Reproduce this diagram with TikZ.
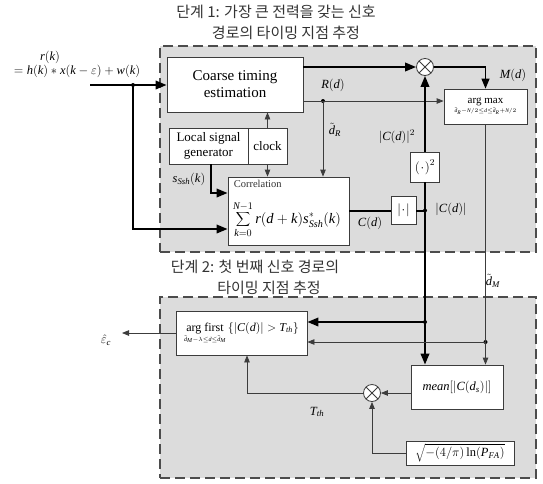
\RequirePackage{fix-cm}
\documentclass[tikz,border=0pt]{standalone}
\usepackage{fontspec}
\setmainfont{Liberation Serif}
\newfontfamily\kr{Noto Sans CJK KR}
\newfontfamily\lsrfam[NFSSFamily=lsr]{Liberation Serif}
\DeclareSymbolFont{tlet}{TU}{lsr}{m}{it}
\DeclareSymbolFont{trm}{TU}{lsr}{m}{n}
\DeclareMathSymbol{a}{\mathalpha}{tlet}{`a}
\DeclareMathSymbol{b}{\mathalpha}{tlet}{`b}
\DeclareMathSymbol{c}{\mathalpha}{tlet}{`c}
\DeclareMathSymbol{d}{\mathalpha}{tlet}{`d}
\DeclareMathSymbol{e}{\mathalpha}{tlet}{`e}
\DeclareMathSymbol{f}{\mathalpha}{tlet}{`f}
\DeclareMathSymbol{g}{\mathalpha}{tlet}{`g}
\DeclareMathSymbol{h}{\mathalpha}{tlet}{`h}
\DeclareMathSymbol{i}{\mathalpha}{tlet}{`i}
\DeclareMathSymbol{j}{\mathalpha}{tlet}{`j}
\DeclareMathSymbol{k}{\mathalpha}{tlet}{`k}
\DeclareMathSymbol{l}{\mathalpha}{tlet}{`l}
\DeclareMathSymbol{m}{\mathalpha}{tlet}{`m}
\DeclareMathSymbol{n}{\mathalpha}{tlet}{`n}
\DeclareMathSymbol{o}{\mathalpha}{tlet}{`o}
\DeclareMathSymbol{p}{\mathalpha}{tlet}{`p}
\DeclareMathSymbol{q}{\mathalpha}{tlet}{`q}
\DeclareMathSymbol{r}{\mathalpha}{tlet}{`r}
\DeclareMathSymbol{s}{\mathalpha}{tlet}{`s}
\DeclareMathSymbol{t}{\mathalpha}{tlet}{`t}
\DeclareMathSymbol{u}{\mathalpha}{tlet}{`u}
\DeclareMathSymbol{v}{\mathalpha}{tlet}{`v}
\DeclareMathSymbol{w}{\mathalpha}{tlet}{`w}
\DeclareMathSymbol{x}{\mathalpha}{tlet}{`x}
\DeclareMathSymbol{y}{\mathalpha}{tlet}{`y}
\DeclareMathSymbol{z}{\mathalpha}{tlet}{`z}
\DeclareMathSymbol{A}{\mathalpha}{tlet}{`A}
\DeclareMathSymbol{C}{\mathalpha}{tlet}{`C}
\DeclareMathSymbol{F}{\mathalpha}{tlet}{`F}
\DeclareMathSymbol{M}{\mathalpha}{tlet}{`M}
\DeclareMathSymbol{N}{\mathalpha}{tlet}{`N}
\DeclareMathSymbol{P}{\mathalpha}{tlet}{`P}
\DeclareMathSymbol{R}{\mathalpha}{tlet}{`R}
\DeclareMathSymbol{S}{\mathalpha}{tlet}{`S}
\DeclareMathSymbol{T}{\mathalpha}{tlet}{`T}
\DeclareMathSymbol{0}{\mathalpha}{trm}{`0}
\DeclareMathSymbol{1}{\mathalpha}{trm}{`1}
\DeclareMathSymbol{2}{\mathalpha}{trm}{`2}
\DeclareMathSymbol{4}{\mathalpha}{trm}{`4}
\DeclareMathSymbol{(}{\mathopen}{trm}{`(}
\DeclareMathSymbol{)}{\mathclose}{trm}{`)}
\usetikzlibrary{arrows.meta,calc}
\definecolor{bggray}{RGB}{220,220,220}
\definecolor{lngray}{RGB}{60,60,60}
\begin{document}
\begin{tikzpicture}[x=1pt,y=-1pt,
  blk/.style={draw=lngray, fill=white, line width=0.8pt, inner sep=0pt, align=center},
  stage/.style={draw=black!70, fill=bggray, dash pattern=on 10pt off 5pt, line width=1.5pt, inner sep=0pt},
  thinln/.style={draw=lngray, line width=0.8pt},
  thickln/.style={draw=black, line width=2pt},
  ta/.style={-{Triangle[length=7pt,width=5.5pt]}},
  tka/.style={-{Triangle[length=11pt,width=8.5pt]}},
  mult/.style={circle, draw=lngray, fill=white, line width=0.8pt, minimum size=17pt, inner sep=0pt,
    path picture={\draw[lngray, line width=0.8pt]
      (path picture bounding box.north west) -- (path picture bounding box.south east)
      (path picture bounding box.north east) -- (path picture bounding box.south west);}},
  jdot/.style={circle, fill=black, inner sep=0pt, minimum size=4pt},
  lab/.style={inner sep=0pt, font=\fontsize{12.5}{14}\selectfont},
  ttl/.style={inner sep=0pt, font=\kr\fontsize{15}{17}\selectfont, text=black!80}
]
\useasboundingbox (0,0) rectangle (543,483);

% stage backgrounds
\node[stage, minimum width=376pt, minimum height=206pt] (s1) at (348,149) {};
\node[stage, minimum width=376pt, minimum height=181pt] (s2) at (348,387.5) {};

% titles
\node[ttl] (t1a) at (276,12) {단계 1: 가장 큰 전력을 갖는 신호};
\node[ttl] (t1b) at (286,33) {경로의 타이밍 지점 추정};
\node[ttl] (t2a) at (255,267) {단계 2: 첫 번째 신호 경로의};
\node[ttl] (t2b) at (269,288) {타이밍 지점 추정};

% blocks
\node[blk, minimum width=136pt, minimum height=55pt, font=\fontsize{15}{17}\selectfont] (coarse) at (235,84.5) {Coarse timing\\estimation};
\node[blk, minimum width=79pt, minimum height=36pt, font=\fontsize{13}{14.5}\selectfont] (local) at (208.5,146) {Local signal\\generator};
\node[blk, minimum width=39pt, minimum height=36pt, font=\fontsize{13}{14.5}\selectfont] (clock) at (267.5,146) {clock};
\node[blk, minimum width=121pt, minimum height=68pt] (corr) at (288.5,211) {};
\node[inner sep=0pt, anchor=north west, font=\fontsize{10.5}{12}\selectfont, text=black!80] (corrt) at ($(corr.north west)+(6,3)$) {Correlation};
\node[inner sep=0pt, font=\fontsize{14.5}{16}\selectfont] (corrf) at (287,220) {$\displaystyle\sum_{k=0}^{N-1} r(d+k)s^{*}_{Ssh}(k)$};
\node[blk, minimum width=25pt, minimum height=28pt, font=\fontsize{13}{14}\selectfont] (abs) at (403.5,210.5) {$\big|\!\cdot\!\big|$};
\node[blk, minimum width=29pt, minimum height=30pt, font=\fontsize{13}{14}\selectfont] (sq) at (425,167) {$\big(\!\cdot\!\big)^{2}$};
\node[blk, minimum width=83pt, minimum height=35pt, font=\fontsize{11}{12}\selectfont] (argmax) at (485.5,106.5) {$\mathop{\mbox{arg max}}\limits_{\scriptscriptstyle\tilde{{d}}_R-N/2\le d\le \tilde{{d}}_R+N/2}$};
\node[mult] (mult1) at (425,67) {};

\node[blk, minimum width=131pt, minimum height=44pt, font=\fontsize{12}{13}\selectfont] (argfirst) at (241.5,333) {$\mathop{\mbox{arg first}}\limits_{\scriptscriptstyle\tilde{{d}}_M-\lambda\le d\le \tilde{{d}}_M}\big\{|C(d)|>T_{th}\big\}$};
\node[blk, minimum width=92pt, minimum height=44pt, font=\fontsize{12.5}{14}\selectfont] (mean) at (457,387) {$mean\big[\big|C(d_s)\big|\big]$};
\node[mult] (mult2) at (372,393) {};
\node[blk, minimum width=108pt, minimum height=24pt, font=\fontsize{12.5}{14}\selectfont] (sqrtb) at (460,453) {$\sqrt{-(4/\pi)\ln(P_{FA})}$};

% junction dots
\node[jdot] (d1) at (133,85) {};
\node[jdot] (d2) at (323,101) {};
\node[jdot] (d3) at (425,210.5) {};
\node[jdot] (d4) at (425,322) {};
\node[jdot] (d5) at (485.5,342) {};

% free coordinates
\coordinate (in) at (90,85);
\coordinate (c1) at (133,229);
\coordinate (ls) at (211,193);
\coordinate (out) at (122,333);
\coordinate (tt) at (247,393);
\coordinate (pp) at (372,453);

% stage 1 connectors
\draw[thickln,tka] (in) -- (in -| coarse.west);
\draw[thickln,tka] (d1.center) -- (c1) -- (c1 -| corr.west);
\draw[thickln,tka] (coarse.east |- mult1) -- (mult1.west);
\draw[thinln,ta] (d2 -| coarse.east) -- (d2 -| argmax.west);
\draw[thinln,ta] (d2.center) -- (d2 |- corr.north);
\draw[draw=black, line width=1.2pt, -{Triangle[length=10pt,width=8pt]}] (mult1.east) -- (mult1 -| argmax.north) -- (argmax.north);
\draw[thinln,ta] (clock.north) -- (clock.north |- coarse.south);
\draw[thinln,ta] (clock.south) -- (clock.south |- corr.north);
\draw[thickln,tka] (ls |- local.south) -- (ls) -- (ls -| corr.west);
\draw[thickln] (corr.east |- abs.west) -- (abs.west);
\draw[thickln] (abs.east) -- (d3.center);
\draw[thickln] (d3.center) -- (sq.south);
\draw[thickln,tka] (sq.north) -- (mult1.south);

% stage 2 connectors
\draw[thickln,tka] (d3.center) -- (d3 |- mean.north);
\draw[thickln,tka] (d4.center) -- (d4 -| argfirst.east);
\draw[thinln,ta] (argmax.south) -- (argmax.south |- mean.north);
\draw[thinln,ta] (d5.center) -- (d5 -| argfirst.east);
\draw[thinln,ta] (argfirst.west) -- (out);
\draw[thinln,ta] (mean.west |- mult2) -- (mult2.east);
\draw[thinln,ta] (mult2.west) -- (tt) -- (tt |- argfirst.south);
\draw[thinln,ta] (sqrtb.west) -- (pp) -- (mult2.south);

% labels
\node[lab] (rk) at (50,57) {$r(k)$};
\node[lab] (hk) at (77,71) {$=h(k)*x(k-\varepsilon)+w(k)$};
\node[lab] (Rd) at (333,85) {$R(d)$};
\node[lab] (Md) at (513,75) {$M(d)$};
\node[lab] (dR) at (335,130) {$\tilde{{d}}_R$};
\node[lab] (C2) at (397,137) {$|C(d)|^{2}$};
\node[lab] (ss) at (189,179) {$s_{Ssh}(k)$};
\node[lab] (Cd) at (370,223) {$C(d)$};
\node[lab] (Ca) at (451,209) {$|C(d)|$};
\node[lab] (dM) at (493,281) {$\tilde{{d}}_M$};
\node[lab] (ec) at (106,340) {$\hat\varepsilon_c$};
\node[lab] (Tth) at (317,412) {$T_{th}$};
\end{tikzpicture}
\end{document}
